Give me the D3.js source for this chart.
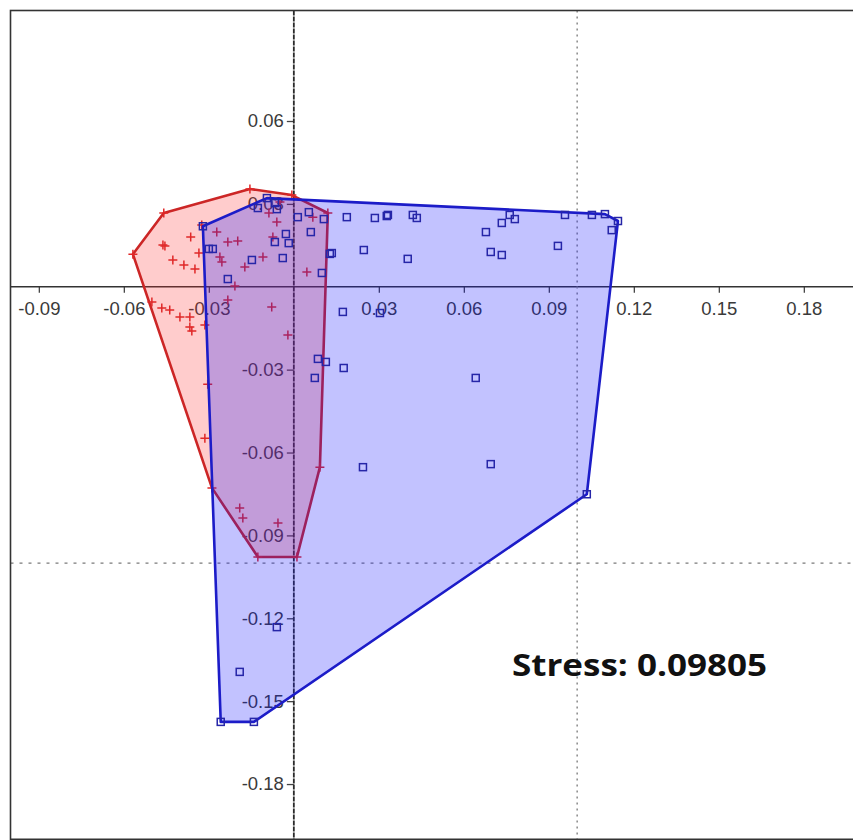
<!DOCTYPE html>
<html>
<head>
<meta charset="utf-8">
<script src="https://cdn.jsdelivr.net/npm/d3@7"></script>
<style>
  html, body { margin: 0; padding: 0; background: #fff; }
  svg { display: block; }
</style>
</head>
<body>
<svg id="chart" width="853" height="840"></svg>
<script>
// ---- data (NMDS coordinates) ----
const redPoints = [
  [-0.0568, 0.0118], [-0.0459, 0.0267], [-0.0155, 0.0354], [-0.0007, 0.0332],
  [0.0120, 0.0267], [0.0092, -0.0653], [0.0011, -0.0978], [-0.0127, -0.0978],
  [-0.0289, -0.0728], [-0.0462, 0.0151], [-0.0364, 0.0180], [-0.0427, 0.0097],
  [-0.0388, 0.0079], [-0.0349, 0.0064], [-0.0335, 0.0122], [-0.0325, 0.0224],
  [-0.0272, 0.0198], [-0.0233, 0.0162], [-0.0198, 0.0166], [-0.0261, 0.0108],
  [-0.0254, 0.0090], [-0.0173, 0.0072], [-0.0109, 0.0108], [-0.0208, 0.0003],
  [-0.0060, 0.0234], [-0.0088, 0.0267], [-0.0074, 0.0180], [0.0067, 0.0252],
  [0.0046, 0.0053], [-0.0233, -0.0048], [-0.0078, -0.0073], [-0.0501, -0.0055],
  [-0.0466, -0.0077], [-0.0438, -0.0084], [-0.0402, -0.0109], [-0.0367, -0.0109],
  [-0.0367, -0.0146], [-0.0360, -0.0160], [-0.0314, -0.0138], [-0.0021, -0.0175],
  [-0.0304, -0.0353], [-0.0314, -0.0548], [-0.0191, -0.0801], [-0.0180, -0.0837],
  [-0.0056, -0.0855], [-0.0049, 0.0307], [-0.0455, 0.0148]
];
const bluePoints = [
  [-0.0321, 0.0219], [-0.0095, 0.0321], [-0.0127, 0.0285], [-0.0067, 0.0303],
  [-0.0060, 0.0281], [0.0014, 0.0252], [0.0053, 0.0270], [0.0106, 0.0245],
  [0.0060, 0.0198], [-0.0028, 0.0191], [-0.0018, 0.0158], [-0.0067, 0.0162],
  [-0.0039, 0.0104], [-0.0148, 0.0097], [-0.0300, 0.0137], [-0.0286, 0.0137],
  [-0.0233, 0.0028], [0.0127, 0.0119], [0.0134, 0.0122], [0.0099, 0.0050],
  [0.0187, 0.0252], [0.0286, 0.0249], [0.0328, 0.0256], [0.0332, 0.0260],
  [0.0420, 0.0260], [0.0434, 0.0249], [0.0678, 0.0198], [0.0734, 0.0231],
  [0.0762, 0.0260], [0.0780, 0.0245], [0.0957, 0.0260], [0.1052, 0.0260],
  [0.1098, 0.0263], [0.1144, 0.0238], [0.1122, 0.0205], [0.0932, 0.0148],
  [0.0695, 0.0126], [0.0734, 0.0115], [0.0402, 0.0101], [0.0247, 0.0133],
  [0.0173, -0.0091], [0.0304, -0.0095], [0.0085, -0.0261], [0.0113, -0.0272],
  [0.0074, -0.0330], [0.0176, -0.0294], [0.0642, -0.0330], [0.0244, -0.0653],
  [0.0695, -0.0642], [0.1034, -0.0751], [-0.0060, -0.1232], [-0.0191, -0.1394],
  [-0.0258, -0.1575], [-0.0141, -0.1575]
];
const xTickValues = [-0.09, -0.06, -0.03, 0.03, 0.06, 0.09, 0.12, 0.15, 0.18];
const yTickValues = [0.06, 0.03, -0.03, -0.06, -0.09, -0.12, -0.15, -0.18];
const xDomain = [-0.1, 0.2];
const yDomain = [-0.2, 0.1];
const refX = 0.1;
const refY = -0.1;
const stressLabel = "Stress: 0.09805";

// ---- drawing ----
const svg = d3.select("#chart");
const x = d3.scaleLinear().domain(xDomain).range([10.5, 860.5]);
const y = d3.scaleLinear().domain(yDomain).range([839.3, 10.5]);

const labelFont = "'Liberation Sans', Arial, sans-serif";
const fmt = d => d3.format(".2f")(d).replace("\u2212", "-");

// x axis through y=0
const xAxis = svg.append("g")
  .attr("transform", `translate(0,${y(0)})`)
  .call(d3.axisBottom(x).tickValues(xTickValues).tickSize(6).tickPadding(9)
        .tickFormat(fmt));
xAxis.select(".domain").remove();
xAxis.selectAll(".tick line").attr("stroke", "#444").attr("stroke-width", 1.3);
xAxis.selectAll(".tick text").attr("fill", "#3a3a3a")
  .style("font-family", labelFont).style("font-size", "18.5px");

// y axis through x=0
const yAxis = svg.append("g")
  .attr("transform", `translate(${x(0)},0)`)
  .call(d3.axisLeft(y).tickValues(yTickValues).tickSize(7).tickPadding(3)
        .tickFormat(fmt));
yAxis.select(".domain").remove();
yAxis.selectAll(".tick line").attr("stroke", "#444").attr("stroke-width", 1.3);
yAxis.selectAll(".tick text").attr("fill", "#3a3a3a")
  .style("font-family", labelFont).style("font-size", "18.5px");

// axis lines
svg.append("line")
  .attr("x1", x(xDomain[0])).attr("x2", x(xDomain[1]))
  .attr("y1", y(0)).attr("y2", y(0))
  .attr("stroke", "#333").attr("stroke-width", 1.6);
svg.append("line")
  .attr("x1", x(0)).attr("x2", x(0))
  .attr("y1", y(yDomain[1])).attr("y2", y(yDomain[0]))
  .attr("stroke", "#2a2a2a").attr("stroke-width", 1.8)
  .attr("stroke-dasharray", "5,1");

// dotted reference lines
svg.append("line")
  .attr("x1", x(refX)).attr("x2", x(refX))
  .attr("y1", y(yDomain[1])).attr("y2", y(yDomain[0]))
  .attr("stroke", "#8a8a8a").attr("stroke-width", 1.5)
  .attr("stroke-dasharray", "2,4");
svg.append("line")
  .attr("x1", x(xDomain[0])).attr("x2", x(xDomain[1]))
  .attr("y1", y(refY)).attr("y2", y(refY))
  .attr("stroke", "#7a7a7a").attr("stroke-width", 1.3)
  .attr("stroke-dasharray", "3,6");

// frame
svg.append("rect")
  .attr("x", x(xDomain[0])).attr("y", y(yDomain[1]))
  .attr("width", x(xDomain[1]) - x(xDomain[0]))
  .attr("height", y(yDomain[0]) - y(yDomain[1]))
  .attr("fill", "none").attr("stroke", "#333").attr("stroke-width", 1.6);

function drawGroup(points, fill, stroke, markerColor, shape) {
  const px = points.map(d => [x(d[0]), y(d[1])]);
  const hull = d3.polygonHull(px);
  svg.append("path")
    .attr("d", "M" + hull.join("L") + "Z")
    .attr("fill", fill)
    .attr("stroke", stroke).attr("stroke-width", 2.6)
    .attr("stroke-linejoin", "round");
  const g = svg.append("g");
  if (shape === "plus") {
    g.selectAll("path").data(points).join("path")
      .attr("d", d => {
        const cx = x(d[0]), cy = y(d[1]), r = 4.5;
        return `M${cx - r},${cy}H${cx + r}M${cx},${cy - r}V${cy + r}`;
      })
      .attr("stroke", markerColor).attr("stroke-width", 1.5).attr("fill", "none");
  } else {
    g.selectAll("rect").data(points).join("rect")
      .attr("x", d => x(d[0]) - 3.5).attr("y", d => y(d[1]) - 3.5)
      .attr("width", 7).attr("height", 7)
      .attr("fill", "none").attr("stroke", markerColor).attr("stroke-width", 1.5);
  }
}

drawGroup(redPoints, "rgba(255,40,40,0.24)", "#cc2626", "#e02828", "plus");
drawGroup(bluePoints, "rgba(20,20,255,0.26)", "#1c1cc8", "#2626a8", "square");

// stress annotation
svg.append("text")
  .attr("x", 512).attr("y", 676)
  .attr("textLength", 255).attr("lengthAdjust", "spacingAndGlyphs")
  .style("font-family", "'Open Sans', 'Noto Sans', sans-serif")
  .style("font-weight", "bold").style("font-size", "30px")
  .attr("fill", "#111")
  .text(stressLabel);
</script>
</body>
</html>
